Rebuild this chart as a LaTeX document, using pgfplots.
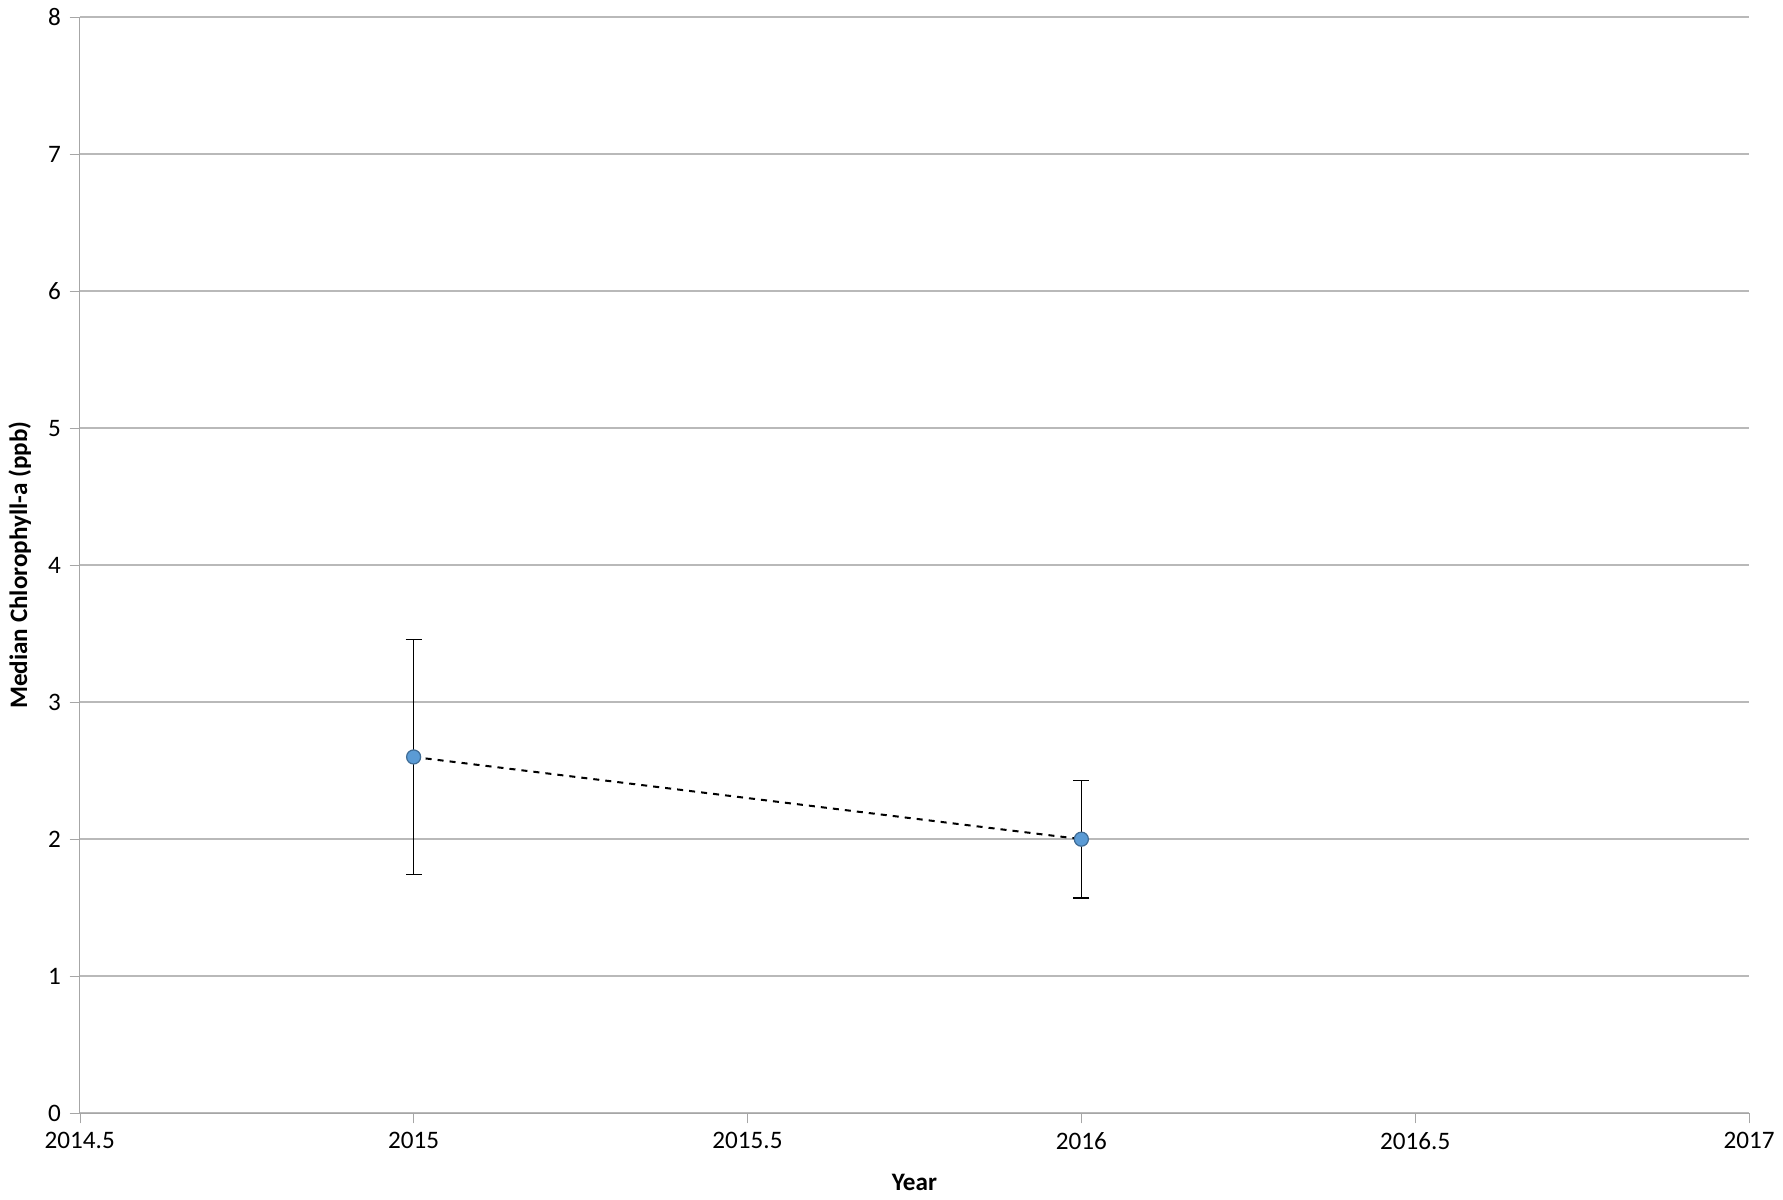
\documentclass[border=0pt]{standalone}
\usepackage{pgfplots}
\pgfplotsset{compat=1.18}
\usepackage{fontspec}
\setmainfont{Carlito}
\definecolor{mk}{HTML}{5B9BD5}
\begin{document}
\fontsize{12.5}{15}\selectfont
\begin{tikzpicture}
\begin{axis}[
  scale only axis, width=830pt, height=545pt,
  xmin=2014.5, xmax=2017, ymin=0, ymax=8,
  xtick={2014.5,2015,2015.5,2016,2016.5,2017},
  xticklabels={2014.5,2015,2015.5,2016,2016.5,2017},
  ytick={0,...,8},
  ymajorgrids, grid style={gray!55, line width=1pt},
  axis line style={gray!70},
  axis x line*=bottom, axis y line*=left,
  tick style={gray!70}, tick align=outside, major tick length=5pt,
  /pgf/number format/assume math mode=true,
  ticklabel style={font=\fontsize{12.5}{15}\selectfont},
  label style={font=\fontsize{12.5}{15}\selectfont},
  xlabel={\textbf{Year}}, ylabel={\textbf{Median Chlorophyll-a (ppb)}},
  xlabel style={yshift=-4pt},
]
\addplot[black, dashed, line width=1pt, mark=*, mark options={solid, fill=mk, draw=mk!70!black, line width=0.6pt}, mark size=3.5pt,
  error bars/.cd, y dir=both, y explicit, error bar style={solid, black, line width=0.6pt}, error mark options={rotate=90, mark size=4pt, black, line width=0.6pt}]
coordinates {
 (2015,2.6) +- (0,0.86) -= (0,0.86)
 (2016,2.0) +- (0,0.43) -= (0,0.43)
};
\end{axis}
\end{tikzpicture}
\end{document}
